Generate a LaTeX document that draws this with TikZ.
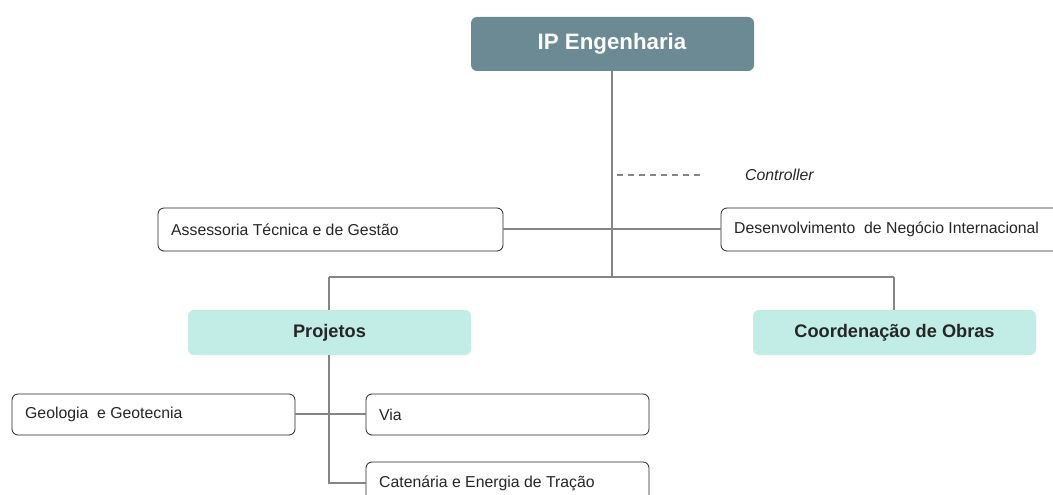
\documentclass[tikz,border=0pt]{standalone}
\usepackage{fontspec}
\setmainfont{Liberation Sans}
\definecolor{topfill}{HTML}{6B8A94}
\definecolor{subfill}{HTML}{C1EDE6}
\definecolor{linegray}{HTML}{858585}
\definecolor{txt}{HTML}{262626}
\begin{document}
\begin{tikzpicture}[x=1pt,y=-1pt,
  conn/.style={draw=linegray,line width=2pt},
  topbox/.style={fill=topfill,rounded corners=6pt},
  toptext/.style={text=white,font=\fontsize{22.3}{24}\selectfont\bfseries},
  subbox/.style={fill=subfill,rounded corners=6pt},
  subtext/.style={text=txt,font=\fontsize{18.2}{20}\selectfont\bfseries},
  leafbox/.style={draw=black!85,line width=0.8pt,fill=white,rounded corners=6pt},
  leaftext/.style={anchor=west,text=txt,font=\fontsize{15.8}{18}\selectfont,inner sep=0pt}]
\useasboundingbox (0,0) rectangle (1053,495);
\clip (0,0) rectangle (1053,495);
\fill[white] (0,0) rectangle (1053,495);
\coordinate (top) at (612,71);
\coordinate (bus) at (612,277);
\coordinate (mid) at (612,229);
\coordinate (busL) at (329,277);
\coordinate (busR) at (894,277);
% main box
\path[topbox] (471,17) rectangle (754,71);
\node[toptext] (ip) at (612,44) {IP Engenharia};
% boxes
\path[leafbox] (158,208) rectangle (503,251);
\node[leaftext] (ass) at (171,229.5) {Assessoria Técnica e de Gestão};
\path[leafbox] (721,208) rectangle (1070,251);
\node[leaftext] (des) at (734,229.5) {Desenvolvimento\ \ de Negócio Internacional};
\path[subbox] (188,310) rectangle (471,355);
\node[subtext] (proj) at (329.5,333) {Projetos};
\path[subbox] (753,310) rectangle (1036,355);
\node[subtext] (coord) at (894.5,333) {Coordenação de Obras};
\path[leafbox] (12,394) rectangle (295,435);
\node[leaftext] (geo) at (25,414.5) {Geologia\ \ e Geotecnia};
\path[leafbox] (366,394) rectangle (649,435);
\node[leaftext] (via) at (379,414.5) {Via};
\path[leafbox] (366,462) rectangle (649,510);
\node[leaftext] (cat) at (379,483.5) {Catenária e Energia de Tração};
% connectors
\draw[conn] (top) -- (bus);
\draw[conn] (503,229) -- (mid) -- (721,229);
\draw[conn] (busL) -- (busR);
\draw[conn] (busL) -- (329,310);
\draw[conn] (busR) -- (894,310);
\draw[conn] (329,355) -- (329,483) -- (366,483);
\draw[conn] (295,414) -- (366,414);
\draw[linegray,line width=1.5pt,dash pattern=on 6pt off 5pt] (617,175) -- (703,175);
\node[text=txt,font=\fontsize{15.8}{18}\selectfont\itshape,anchor=west,inner sep=0pt] (ctrl) at (745,174.5) {Controller};
\end{tikzpicture}
\end{document}
